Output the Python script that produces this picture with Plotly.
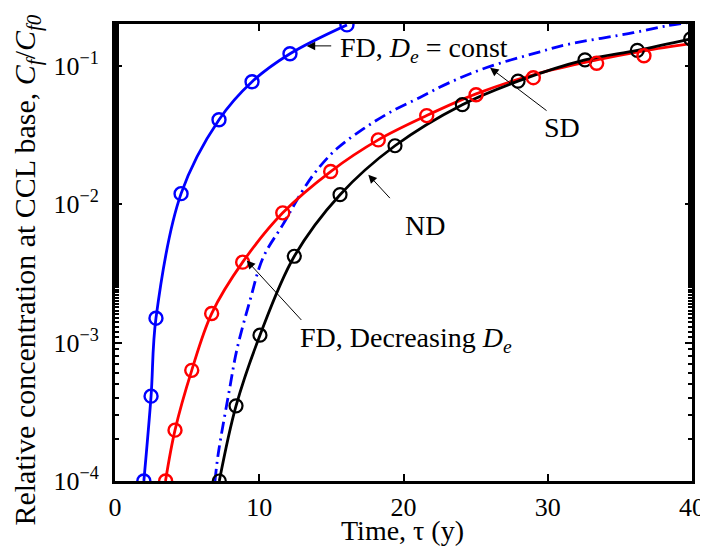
import numpy as np
import plotly.graph_objects as go

# FD, De = const (blue, solid + circles)
fd_const_t = [2.0, 2.5, 2.84, 4.58, 7.21, 9.5, 12.13, 16.08]
fd_const_c = [1.0e-4, 4.1e-4, 1.5e-3, 0.0119, 0.0407, 0.0766, 0.122, 0.197]

# FD, decreasing De (red): line and circle markers
fd_dec_line_t = [3.5, 4.16, 5.32, 6.7, 8.85, 11.63, 14.95, 18.25, 21.61, 25.03, 29.0, 33.39, 36.67, 40.0]
fd_dec_line_c = [1.0e-4, 2.33e-4, 6.3e-4, 1.62e-3, 3.81e-3, 8.65e-3, 0.0172, 0.0291, 0.0436,
                 0.0625, 0.086, 0.110, 0.128, 0.145]
fd_dec_mark_t = [3.51, 4.16, 5.32, 6.7, 8.85, 11.63, 14.95, 18.25, 21.61, 25.03, 29.0, 33.39, 36.67]
fd_dec_mark_c = [1.0e-4, 2.33e-4, 6.3e-4, 1.62e-3, 3.81e-3, 8.65e-3, 0.0172, 0.0291, 0.0436,
                 0.0617, 0.0819, 0.104, 0.118]

# ND (black, solid + circles)
nd_t = [7.23, 8.39, 10.05, 12.43, 15.6, 19.41, 24.08, 27.94, 32.58, 36.21, 39.91]
nd_c = [1.0e-4, 3.49e-4, 1.13e-3, 4.2e-3, 0.0117, 0.0264, 0.0523, 0.0773, 0.110, 0.129, 0.156]

# SD (blue dash-dot)
sd_t = [6.93, 7.16, 7.97, 8.44, 9.36, 10.28, 11.67, 12.94, 13.98, 15.37, 17.21, 19.06, 21.14,
        23.22, 25.77, 29.46, 31.31, 35.93, 38.25, 40.0]
sd_c = [1.0e-4, 1.58e-4, 4.8e-4, 8.8e-4, 2.02e-3, 4.14e-3, 7.2e-3, 0.0122, 0.0175, 0.0251,
        0.0349, 0.046, 0.059, 0.0757, 0.097, 0.126, 0.142, 0.173, 0.194, 0.207]

x_ticks = [0, 10, 20, 30, 40]
y_ticks = [1e-4, 1e-3, 1e-2, 1e-1]
y_ticktext = ["10<sup>\u22124</sup>", "10<sup>\u22123</sup>", "10<sup>\u22122</sup>", "10<sup>\u22121</sup>"]

FONT = "Liberation Serif"
BLUE, RED, BLACK = "#0000ff", "#ff0000", "#000000"

fig = go.Figure()
fig.add_trace(go.Scatter(x=sd_t, y=sd_c, mode="lines", line=dict(color=BLUE, width=2.8,
                         dash="12px,5px,2px,5px", shape="spline")))
fig.add_trace(go.Scatter(x=fd_const_t, y=fd_const_c, mode="lines+markers",
                         line=dict(color=BLUE, width=2.8, shape="spline"),
                         marker=dict(symbol="circle-open", size=13, color=BLUE, line=dict(width=2.4))))
fig.add_trace(go.Scatter(x=fd_dec_line_t, y=fd_dec_line_c, mode="lines",
                         line=dict(color=RED, width=2.8, shape="spline")))
fig.add_trace(go.Scatter(x=nd_t, y=nd_c, mode="lines+markers",
                         line=dict(color=BLACK, width=2.8, shape="spline"),
                         marker=dict(symbol="circle-open", size=13, color=BLACK, line=dict(width=2.2))))
fig.add_trace(go.Scatter(x=fd_dec_mark_t, y=fd_dec_mark_c, mode="markers",
                         marker=dict(symbol="circle-open", size=13, color=RED, line=dict(width=2.4))))

# arrows: (head x, head log10 y, tail dx px, tail dy px)
arrows = [(13.29, -0.857, 26, 0), (26.0, -1.015, 58, 44), (17.56, -1.787, 23, 25), (9.13, -2.407, 56, 61)]
for hx, hy, dx, dy in arrows:
    fig.add_annotation(x=hx, y=hy, ax=dx, ay=dy, text="", showarrow=True, arrowhead=2,
                       arrowsize=1.7, arrowwidth=1, arrowcolor="black", standoff=0)

labels = [
    (15.46, -0.88, "left", "FD, <i>D</i><sub><i>e</i></sub> = const"),
    (31.0, -1.448, "center", "SD"),
    (21.49, -2.154, "center", "ND"),
    (12.69, -2.98, "left", "FD, Decreasing <i>D</i><sub><i>e</i></sub>"),
]
for lx, ly, anc, txt in labels:
    fig.add_annotation(x=lx, y=ly, text=txt, showarrow=False, xanchor=anc, yanchor="middle",
                       font=dict(family=FONT, size=28, color="black"))

# axis titles placed in paper coordinates
fig.add_annotation(x=0.499, y=-0.108, xref="paper", yref="paper", text="Time, \u03c4 (y)",
                   showarrow=False, xanchor="center", yanchor="middle",
                   font=dict(family=FONT, size=28, color="black"))
fig.add_annotation(x=-0.153, y=0.462, xref="paper", yref="paper", textangle=-90,
                   text="Relative concentration at CCL base, <i>C</i><sub><i>f</i></sub>/<i>C</i><sub><i>f0</i></sub>",
                   showarrow=False, xanchor="center", yanchor="middle",
                   font=dict(family=FONT, size=30, color="black"))

axis_common = dict(showline=True, linecolor="black", linewidth=3, mirror="ticks", ticks="inside",
                   tickcolor="black", tickwidth=2, ticklen=7, showgrid=False, zeroline=False,
                   automargin=False, ticklabeloverflow="allow",
                   tickfont=dict(family=FONT, size=26, color="black"))
fig.update_xaxes(range=[0, 40], tickvals=x_ticks, ticktext=[str(v) for v in x_ticks],
                 ticklabelstandoff=1, **axis_common)
fig.update_yaxes(type="log", range=[-4, np.log10(0.2)], tickvals=y_ticks, ticktext=y_ticktext,
                 ticklabelstandoff=8,
                 minor=dict(ticks="inside", ticklen=4, tickcolor="black", tickwidth=1.5),
                 **axis_common)
# page body adds an 8px offset, so the figure is drawn 8px smaller on each axis
fig.update_layout(width=700, height=544, showlegend=False, plot_bgcolor="white",
                  paper_bgcolor="white", margin=dict(l=107, r=16, t=16, b=71))
fig.write_html("out.html")
